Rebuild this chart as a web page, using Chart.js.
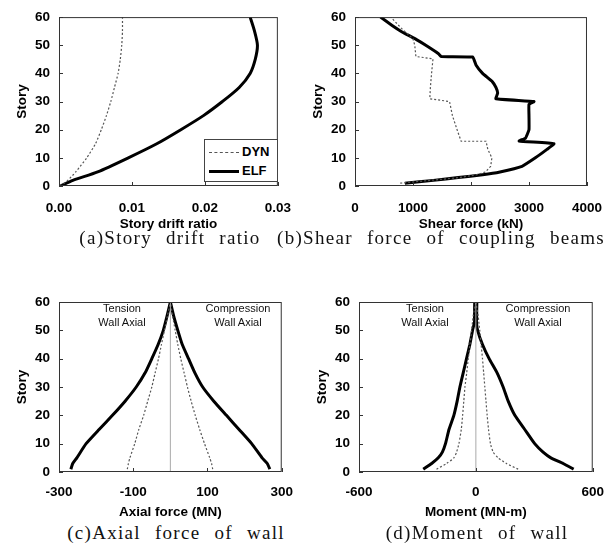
<!DOCTYPE html>
<html>
<head>
<meta charset="utf-8">
<script src="https://cdn.jsdelivr.net/npm/chart.js@4.4.1/dist/chart.umd.min.js"></script>
<style>
  body { margin: 0; background: #fff; width: 616px; height: 552px; position: relative; overflow: hidden; font-family: "Liberation Sans", Arial, sans-serif; }
  .panel { position: absolute; }
  .cap { position: absolute; font-family: "Liberation Serif", serif; font-size: 19px; color: #111; white-space: nowrap; transform: translateX(-50%); letter-spacing: 1.3px; word-spacing: 8px; }
  .note { position: absolute; font-size: 11px; line-height: 14px; text-align: center; color: #111; transform: translateX(-50%); white-space: nowrap; }
  #legend { position: absolute; left: 204px; top: 139px; width: 72px; height: 41px; border: 1px solid #444; background: #fff; font-weight: bold; font-size: 13px; }
  #legend div { position: absolute; left: 4px; height: 14px; line-height: 14px; }
  #legend span.ln { display: inline-block; width: 30px; vertical-align: middle; margin-right: 3px; }
</style>
</head>
<body>
<canvas id="cA" class="panel" width="305" height="234" style="left:0;top:0"></canvas>
<canvas id="cB" class="panel" width="316" height="234" style="left:300px;top:0"></canvas>
<canvas id="cC" class="panel" width="305" height="255" style="left:0;top:265px"></canvas>
<canvas id="cD" class="panel" width="316" height="255" style="left:300px;top:265px"></canvas>

<div id="legend">
  <div style="top:5px"><span class="ln" style="border-top:1px dashed #555"></span>DYN</div>
  <div style="top:24px"><span class="ln" style="border-top:3px solid #000"></span>ELF</div>
</div>

<div class="note" style="left:122px;top:301px">Tension<br>Wall Axial</div>
<div class="note" style="left:238px;top:301px">Compression<br>Wall Axial</div>
<div class="note" style="left:425px;top:301px">Tension<br>Wall Axial</div>
<div class="note" style="left:538px;top:301px">Compression<br>Wall Axial</div>

<div class="cap" style="left:170px;top:227px">(a)Story drift ratio</div>
<div class="cap" style="left:441px;top:227px">(b)Shear force of coupling beams</div>
<div class="cap" style="left:176px;top:522px">(c)Axial force of wall</div>
<div class="cap" style="left:477px;top:522px">(d)Moment of wall</div>

<script>
// (a) story drift ratio
const aStory = [0, 2, 5, 10, 15, 20, 25, 30, 35, 40, 45, 50, 55, 60];
const aDyn = [0.0002, 0.0012, 0.0023, 0.0038, 0.0050, 0.0058, 0.0065, 0.0071, 0.0076, 0.0081, 0.0084, 0.0086, 0.0087, 0.0087];
const aElf = [0.0002, 0.0019, 0.0053, 0.0095, 0.0134, 0.0167, 0.0198, 0.0224, 0.0247, 0.0262, 0.0269, 0.0272, 0.0268, 0.0262];

// (b) shear force of coupling beams (kN)
const bDynStory = [1, 2, 3, 4, 5, 7, 10, 13, 15.9, 15.9, 20, 25, 30, 31, 35, 40, 45.2, 46, 50, 52.3, 56, 59.3, 60];
const bDyn = [780, 1300, 1800, 2100, 2250, 2340, 2360, 2290, 2260, 1830, 1760, 1680, 1630, 1290, 1300, 1320, 1345, 1050, 1030, 1000, 800, 650, 620];
const bElfStory = [1, 2, 3, 4, 5, 7, 10, 13, 15, 16, 17, 20, 25, 29, 30, 31, 33, 35, 37, 40, 43, 45.8, 46, 47, 50, 52, 55, 57, 60];
const bElf = [860, 1350, 1780, 2200, 2500, 2880, 3110, 3310, 3430, 2830, 2940, 3000, 3000, 3000, 3086, 2430, 2460, 2430, 2370, 2200, 2086, 2030, 1486, 1440, 1220, 1060, 790, 640, 440];

// (c) axial force of wall (MN)
const cStory = [1, 3, 5, 10, 15, 20, 25, 30, 35, 40, 45, 50, 55, 60];
const cElfTen = [-268, -263, -252, -227, -192, -156, -122, -92, -68, -50, -33, -19, -9, 0];
const cElfComp = [268, 261, 247, 219, 185, 151, 117, 87, 66, 49, 32, 20, 9, 0];
const cDynTen = [-116, -113, -109, -96, -85, -72, -61, -50, -41, -32, -24, -16, -8, 0];
const cDynComp = [114, 111, 106, 92, 79, 67, 56, 46, 37, 28, 20, 13, 6, 0];

// (d) moment of wall (MN-m)
const dStory = [1, 3, 5, 7, 10, 15, 20, 25, 30, 35, 40, 45, 50, 53, 55, 60];
const dElfTen = [-270, -227, -193, -172, -156, -138, -113, -96, -82, -65, -48, -31, -17, -7, -7, -6];
const dElfComp = [502, 448, 385, 345, 302, 251, 200, 166, 140, 109, 68, 34, 9, 3, 4, 5];
const dDynTen = [-202, -150, -113, -99, -87, -75, -68, -62, -56, -47, -39, -30, -22, -17, -14, 0];
const dDynComp = [217, 157, 114, 89, 75, 65, 58, 52, 46, 40, 34, 27, 20, 15, 12, 0];

const centerStory = [0, 60];
const centerVal = [0, 0];

const tickFont = { family: 'Liberation Sans', size: 13.5, weight: 'bold' };

function pts(ys, xs) {
  return xs.map((x, i) => ({ x: x, y: ys[i] }));
}

function elf(data, t) {
  return { data: data, showLine: true, borderColor: '#000', borderWidth: 3, pointRadius: 0, tension: t, fill: false };
}
function dyn(data, t) {
  return { data: data, showLine: true, borderColor: '#555', borderWidth: 1.2, borderDash: [2, 2], pointRadius: 0, tension: t, fill: false };
}
function center() {
  return { data: pts(centerStory, centerVal), showLine: true, borderColor: '#aaa', borderWidth: 1, pointRadius: 0 };
}

const frame = {
  id: 'frame',
  afterDatasetsDraw(chart) {
    const { ctx, chartArea: a, scales } = chart;
    ctx.save();
    ctx.strokeStyle = '#333';
    ctx.lineWidth = 1;
    ctx.strokeRect(a.left + 0.5, a.top + 0.5, a.right - a.left - 1, a.bottom - a.top - 1);
    ctx.beginPath();
    scales.y.ticks.forEach(t => {
      const p = Math.round(scales.y.getPixelForValue(t.value)) + 0.5;
      ctx.moveTo(a.left, p);
      ctx.lineTo(a.left + 4, p);
    });
    scales.x.ticks.forEach(t => {
      const p = Math.round(scales.x.getPixelForValue(t.value)) + 0.5;
      ctx.moveTo(p, a.bottom);
      ctx.lineTo(p, a.bottom - 4);
    });
    ctx.stroke();
    ctx.restore();
  }
};

function makePanel(id, o) {
  new Chart(document.getElementById(id), {
    type: 'scatter',
    data: { datasets: o.datasets },
    options: {
      responsive: false,
      animation: false,
      layout: { padding: { top: o.top, right: o.right, left: 0, bottom: 0 } },
      plugins: { legend: { display: false }, tooltip: { enabled: false } },
      scales: {
        x: {
          type: 'linear', min: o.xmin, max: o.xmax,
          afterFit: s => { s.height = o.xh; },
          grid: { display: false, drawTicks: false },
          border: { display: false },
          ticks: { stepSize: o.step, padding: o.tickPad, color: '#000', font: tickFont, maxRotation: 0, autoSkip: false, callback: o.fmt || (v => v) },
          title: { display: true, text: o.xtitle, color: '#000', font: tickFont, padding: { top: 0, bottom: o.titlePad } }
        },
        y: {
          type: 'linear', min: 0, max: 60,
          afterFit: s => { s.width = o.yw; },
          grid: { display: false, drawTicks: false },
          border: { display: false },
          ticks: { stepSize: 10, padding: 9, color: '#000', font: tickFont },
          title: { display: true, text: 'Story', color: '#000', font: tickFont, padding: { top: o.ytPad, bottom: 0 } }
        }
      }
    },
    plugins: [frame]
  });
}

makePanel('cA', {
  datasets: [dyn(pts(aStory, aDyn), 0.2), elf(pts(aStory, aElf), 0.25)],
  xmin: 0, xmax: 0.03, step: 0.01, fmt: v => v.toFixed(2),
  xtitle: 'Story drift ratio', top: 16, right: 12, yw: 59, xh: 48, tickPad: 14, titlePad: 2, ytPad: 14
});

makePanel('cB', {
  datasets: [dyn(pts(bDynStory, bDyn), 0), elf(pts(bElfStory, bElf), 0.1)],
  xmin: 0, xmax: 4000, step: 1000,
  xtitle: 'Shear force (kN)', top: 16, right: 28, yw: 55, xh: 48, tickPad: 14, titlePad: 2, ytPad: 10
});

makePanel('cC', {
  datasets: [
    center(),
    dyn(pts(cStory, cDynTen), 0.2), dyn(pts(cStory, cDynComp), 0.2),
    elf(pts(cStory, cElfTen), 0.15), elf(pts(cStory, cElfComp), 0.15)
  ],
  xmin: -300, xmax: 300, step: 200,
  xtitle: 'Axial force (MN)', top: 37, right: 12, yw: 59, xh: 48, tickPad: 12, titlePad: 0, ytPad: 14
});

makePanel('cD', {
  datasets: [
    center(),
    dyn(pts(dStory, dDynTen), 0.2), dyn(pts(dStory, dDynComp), 0.2),
    elf(pts(dStory, dElfTen), 0.15), elf(pts(dStory, dElfComp), 0.15)
  ],
  xmin: -600, xmax: 600, step: 600,
  xtitle: 'Moment (MN-m)', top: 37, right: 23, yw: 59, xh: 48, tickPad: 12, titlePad: 0, ytPad: 14
});
</script>
</body>
</html>
